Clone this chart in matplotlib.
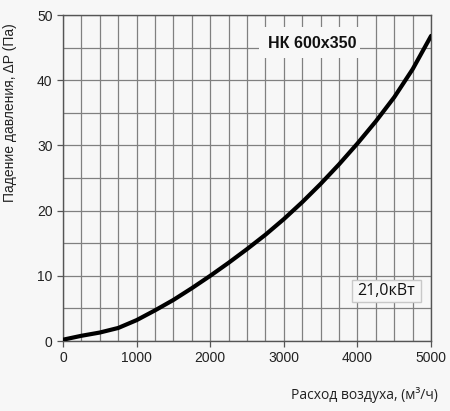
import matplotlib
matplotlib.use("Agg")
import matplotlib.pyplot as plt
from matplotlib.patches import Rectangle
import numpy as np

airflow = [0, 250, 500, 750, 1000, 1250, 1500, 1750, 2000, 2250, 2500, 2750,
           3000, 3250, 3500, 3750, 4000, 4250, 4500, 4750, 5000]
pressure = [0.2, 0.8, 1.3, 2.0, 3.2, 4.7, 6.3, 8.1, 10.0, 12.0, 14.1, 16.3,
            18.7, 21.3, 24.1, 27.1, 30.3, 33.7, 37.4, 41.7, 46.8]
x_ticks = [0, 1000, 2000, 3000, 4000, 5000]
y_ticks = [0, 10, 20, 30, 40, 50]
title_text = "НК 600x350"
power_text = "21,0кВт"
xlabel = "Расход воздуха, (м³/ч)"
ylabel = "Падение давления, ΔP (Па)"

plt.rcParams["font.family"] = ["Liberation Sans", "DejaVu Sans"]

bg = "#f7f7f7"
fig = plt.figure(figsize=(4.5, 4.11), dpi=100, facecolor=bg)
ax = fig.add_axes([0.14, 0.1703, 0.818, 0.7932], facecolor=bg)

ax.set_xlim(0, 5000)
ax.set_ylim(0, 50)
ax.set_xticks(x_ticks)
ax.set_yticks(y_ticks)
ax.set_xticks(np.arange(0, 5001, 250), minor=True)
ax.set_yticks(np.arange(0, 51, 5), minor=True)
ax.grid(True, which="both", color="#808080", linewidth=0.9)
ax.tick_params(which="minor", length=0)
ax.tick_params(which="major", length=4, width=0.9, color="#555555",
               labelsize=10, labelcolor="#222222")
for s in ax.spines.values():
    s.set_color("#555555")
    s.set_linewidth(1.0)
ax.set_axisbelow(True)

# label backgrounds (cut the grid)
ax.add_patch(Rectangle((2667, 43.45), 1368, 4.75, facecolor=bg,
                       edgecolor="none", zorder=2))
ax.add_patch(Rectangle((3923, 6.03), 941, 3.33, facecolor=bg,
                       edgecolor="#c8c8c8", linewidth=1, zorder=2))

ax.plot(airflow, pressure, color="black", linewidth=3, solid_capstyle="round",
        solid_joinstyle="round", zorder=3)

ax.text(3380, 45.6, title_text, ha="center", va="center", fontsize=11.5,
        fontweight="bold", color="#111111", zorder=4)
ax.text(4393, 7.7, power_text, ha="center", va="center", fontsize=11.5,
        family=["Open Sans", "DejaVu Sans"], color="#111111", zorder=4)

fig.text(0.973, 0.04, xlabel, ha="right", va="center", fontsize=10,
         family=["Open Sans", "DejaVu Sans"], color="#222222")
fig.text(0.022, 0.727, ylabel, ha="center", va="center", rotation=90,
         fontsize=10, color="#222222")

fig.savefig("out.png", dpi=100, facecolor=bg)
